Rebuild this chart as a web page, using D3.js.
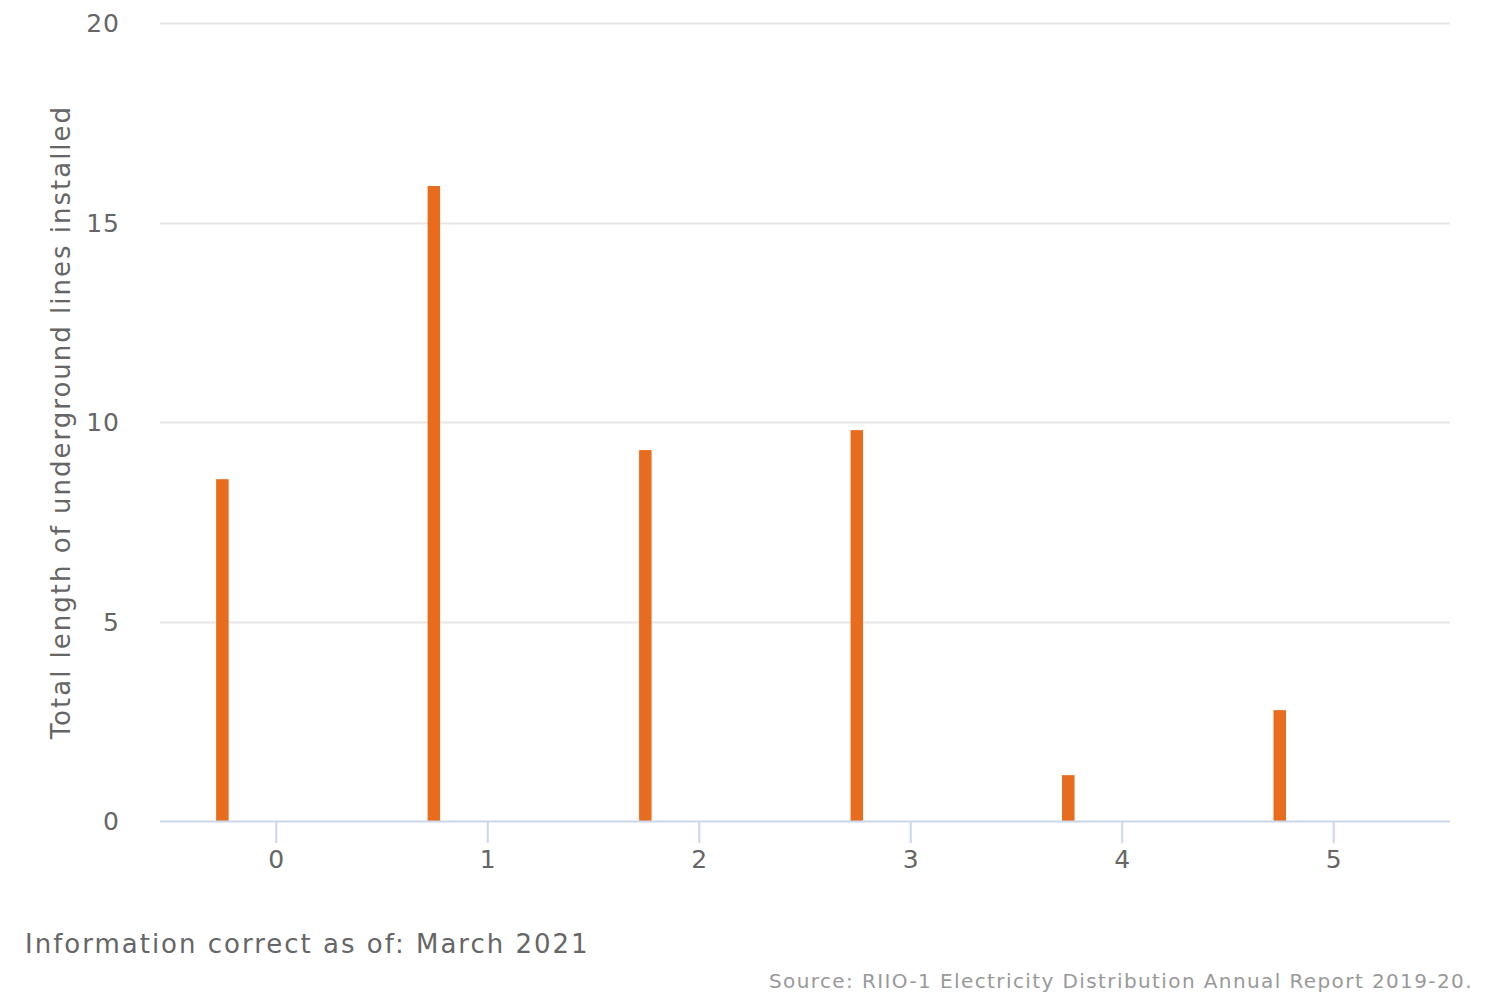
<!DOCTYPE html>
<html><head><meta charset="utf-8">
<script src="https://cdn.jsdelivr.net/npm/d3@7"></script>
<style>body{margin:0;background:#fff}svg{display:block;font-family:"DejaVu Sans",sans-serif}</style>
</head><body>
<svg id="c" width="1500" height="1000"></svg>
<script>
const categories = [0, 1, 2, 3, 4, 5];
const values = [8.57, 15.92, 9.3, 9.8, 1.15, 2.78];
const yTicks = [0, 5, 10, 15, 20];
const yTitle = "Total length of underground lines installed";
const footnote = "Information correct as of: March 2021";
const source = "Source: RIIO-1 Electricity Distribution Annual Report 2019-20.";

(function () {
const svg = d3.select("#c");
const pLeft = 160, pRight = 1450, pTop = 23.3, pBottom = 821;
const x = d3.scaleLinear().domain([-0.55, 5.55]).range([pLeft, pRight]);
const y = d3.scaleLinear().domain([0, 20]).range([pBottom, pTop]);

// gridlines
svg.append("g").selectAll("line").data(yTicks.filter(d => d > 0)).join("line")
  .attr("x1", pLeft).attr("x2", pRight)
  .attr("y1", d => Math.round(y(d)) + 0.5).attr("y2", d => Math.round(y(d)) + 0.5)
  .attr("stroke", "#e6e6e6").attr("stroke-width", 2);

// y labels
svg.append("g").selectAll("text").data(yTicks).join("text")
  .attr("x", 120).attr("y", d => y(d) + 9)
  .attr("text-anchor", "end").attr("font-size", 25).attr("fill", "#666")
  .attr("letter-spacing", 1)
  .text(d => d);

// bars
const bw = 12.5;
svg.append("g").selectAll("rect").data(values).join("rect")
  .attr("x", (d, i) => x(categories[i] - 0.255) - bw / 2)
  .attr("width", bw)
  .attr("y", d => y(d))
  .attr("height", d => y(0) - y(d))
  .attr("fill", "#e86c1e");

// x axis line
svg.append("line").attr("x1", pLeft).attr("x2", pRight)
  .attr("y1", pBottom + 0.5).attr("y2", pBottom + 0.5)
  .attr("stroke", "#ccd6eb").attr("stroke-width", 2);

// ticks
svg.append("g").selectAll("line").data(categories).join("line")
  .attr("x1", d => x(d)).attr("x2", d => x(d))
  .attr("y1", pBottom).attr("y2", pBottom + 22)
  .attr("stroke", "#ccd6eb").attr("stroke-width", 2);

svg.append("g").selectAll("text").data(categories).join("text")
  .attr("x", d => x(d)).attr("y", 868)
  .attr("text-anchor", "middle").attr("font-size", 25).attr("fill", "#666")
  .text(d => d);

// y title
svg.append("text")
  .attr("transform", `translate(70,${(pTop + pBottom) / 2}) rotate(-90)`)
  .attr("text-anchor", "middle").attr("font-size", 26).attr("fill", "#666")
  .attr("letter-spacing", 2)
  .text(yTitle);

svg.append("text").attr("x", 25).attr("y", 953)
  .attr("font-size", 26).attr("fill", "#666").attr("letter-spacing", 2).text(footnote);

svg.append("text").attr("x", 1473).attr("y", 988)
  .attr("text-anchor", "end").attr("font-size", 20).attr("fill", "#999")
  .attr("letter-spacing", 1.4).text(source);
})();
</script>
</body></html>
